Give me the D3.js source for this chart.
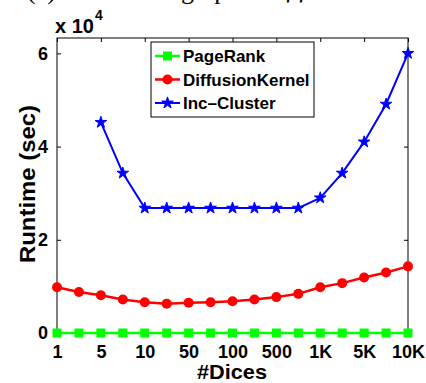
<!DOCTYPE html>
<html>
<head>
<meta charset="utf-8">
<script src="https://cdn.jsdelivr.net/npm/d3@7"></script>
<style>
  html, body { margin: 0; padding: 0; background: #fff; }
  svg { display: block; }
  text { font-family: "Liberation Sans", Arial, sans-serif; fill: #000; }
</style>
</head>
<body>
<svg id="chart" width="426" height="383"></svg>
<script>
// Runtime (seconds) for each #Dices setting, 17 settings from 1 to 10K
const xTickLabels = ["1", "5", "10", "50", "100", "500", "1K", "5K", "10K"];
const pageRank = [0, 0, 0, 0, 0, 0, 0, 0, 0, 0, 0, 0, 0, 0, 0, 0, 0];
const diffusionKernel = [9800, 8800, 8100, 7200, 6600, 6300, 6500, 6600, 6800,
                         7200, 7700, 8400, 9800, 10700, 11900, 13000, 14300];
const incCluster = [null, null, 45200, 34300, 26800, 26800, 26800, 26800, 26800,
                    26800, 26800, 26800, 29000, 34300, 41000, 49100, 60000];
const yTicks = [0, 20000, 40000, 60000];
const seriesNames = ["PageRank", "DiffusionKernel", "Inc\u2013Cluster"];

const svg = d3.select("#chart");
const plotL = 57, plotR = 408, plotT = 38, plotB = 333;

const x = d3.scaleLinear().domain([0, diffusionKernel.length - 1]).range([plotL, plotR]);
const y = d3.scaleLinear().domain([0, 63300]).range([plotB, plotT]);

// caption of the panel, mostly cut off at the top edge
const cap = svg.append("g");
cap.append("text").attr("x", 27).attr("y", -1).attr("font-size", 26)
   .style("font-family", "Liberation Serif, serif").text("(c)");
cap.append("text").attr("x", 181).attr("y", -1).attr("font-size", 26)
   .style("font-family", "Liberation Serif, serif").text("graph");
cap.append("text").attr("x", 284).attr("y", -1).attr("font-size", 26)
   .style("font-family", "Liberation Serif, serif").attr("font-style", "italic").text("ƒƒ");

// plot frame
svg.append("rect").attr("x", plotL).attr("y", plotT).attr("width", plotR - plotL).attr("height", plotB - plotT)
   .attr("fill", "none").attr("stroke", "#000").attr("stroke-width", 1);

const xTickIdx = xTickLabels.map((d, i) => i * 2);

// bottom axis with labels
const xAxis = d3.axisBottom(x).tickValues(xTickIdx).tickFormat((d, i) => xTickLabels[i])
  .tickSizeInner(-4).tickSizeOuter(0).tickPadding(12);
const gx = svg.append("g").attr("transform", `translate(0,${plotB})`).call(xAxis);
gx.select(".domain").remove();
gx.selectAll("text").attr("font-size", 18).attr("font-weight", "bold")
  .attr("font-family", "Liberation Sans, Arial, sans-serif");

// top ticks
const gxt = svg.append("g").attr("transform", `translate(0,${plotT})`)
  .call(d3.axisTop(x).tickValues(xTickIdx).tickSizeInner(-4).tickSizeOuter(0).tickFormat(""));
gxt.select(".domain").remove();

// left axis
const yAxis = d3.axisLeft(y).tickValues(yTicks).tickFormat(d => d / 10000)
  .tickSizeInner(-4).tickSizeOuter(0).tickPadding(9);
const gy = svg.append("g").attr("transform", `translate(${plotL},0)`).call(yAxis);
gy.select(".domain").remove();
gy.selectAll("text").attr("font-size", 18).attr("font-weight", "bold")
  .attr("font-family", "Liberation Sans, Arial, sans-serif");

// right ticks
const gyr = svg.append("g").attr("transform", `translate(${plotR},0)`)
  .call(d3.axisRight(y).tickValues(yTicks).tickSizeInner(-4).tickSizeOuter(0).tickFormat(""));
gyr.select(".domain").remove();

// exponent marker
const ex = svg.append("text").attr("x", 55).attr("y", 33).attr("font-size", 20).attr("font-weight", "bold");
ex.append("tspan").text("x 10");
ex.append("tspan").attr("font-size", 14).attr("dy", -13).attr("dx", 1).text("4");

// axis titles
svg.append("text").attr("x", 232).attr("y", 379).attr("text-anchor", "middle")
  .attr("font-size", 20).attr("font-weight", "bold")
  .attr("textLength", 70).attr("lengthAdjust", "spacingAndGlyphs").text("#Dices");
svg.append("text").attr("transform", "translate(35,184) rotate(-90)").attr("text-anchor", "middle")
  .attr("font-size", 22).attr("font-weight", "bold")
  .attr("textLength", 158).attr("lengthAdjust", "spacingAndGlyphs").text("Runtime (sec)");

const line = d3.line().defined(d => d != null).x((d, i) => x(i)).y(d => y(d));
const idx = d => d.map((v, i) => ({ v, i })).filter(p => p.v != null);

// PageRank
svg.append("path").datum(pageRank).attr("d", line).attr("fill", "none")
  .attr("stroke", "#00ff00").attr("stroke-width", 2.5);
svg.append("g").selectAll("rect").data(idx(pageRank)).join("rect")
  .attr("x", p => x(p.i) - 4.5).attr("y", p => y(p.v) - 4.5).attr("width", 9).attr("height", 9)
  .attr("fill", "#00ff00");

// DiffusionKernel
svg.append("path").datum(diffusionKernel).attr("d", line).attr("fill", "none")
  .attr("stroke", "#ff0000").attr("stroke-width", 2.5);
svg.append("g").selectAll("circle").data(idx(diffusionKernel)).join("circle")
  .attr("cx", p => x(p.i)).attr("cy", p => y(p.v)).attr("r", 5).attr("fill", "#ff0000");

// Inc-Cluster
svg.append("path").datum(incCluster).attr("d", line).attr("fill", "none")
  .attr("stroke", "#0000ff").attr("stroke-width", 2);
const star = d3.symbol().type(d3.symbolStar).size(42);
svg.append("g").selectAll("path").data(idx(incCluster)).join("path")
  .attr("transform", p => `translate(${x(p.i)},${y(p.v)})`).attr("d", star)
  .attr("fill", "#0000ff").attr("stroke", "#0000ff").attr("stroke-width", 1);

// legend
const lg = svg.append("g");
lg.append("rect").attr("x", 151).attr("y", 42).attr("width", 163).attr("height", 75)
  .attr("fill", "#fff").attr("stroke", "#000").attr("stroke-width", 1);
const rows = [56, 79.5, 103];
const colors = ["#00ff00", "#ff0000", "#0000ff"];
seriesNames.forEach((name, k) => {
  const ry = rows[k];
  lg.append("line").attr("x1", 155).attr("x2", 180).attr("y1", ry).attr("y2", ry)
    .attr("stroke", colors[k]).attr("stroke-width", k === 2 ? 2 : 2.5);
  if (k === 0) {
    lg.append("rect").attr("x", 163).attr("y", ry - 4.5).attr("width", 9).attr("height", 9).attr("fill", colors[k]);
  } else if (k === 1) {
    lg.append("circle").attr("cx", 167.5).attr("cy", ry).attr("r", 5).attr("fill", colors[k]);
  } else {
    lg.append("path").attr("transform", `translate(167.5,${ry})`).attr("d", star)
      .attr("fill", colors[k]).attr("stroke", colors[k]).attr("stroke-width", 1);
  }
  lg.append("text").attr("x", 183).attr("y", ry + 6).attr("font-size", 17).attr("font-weight", "bold").text(name);
});
</script>
</body>
</html>
